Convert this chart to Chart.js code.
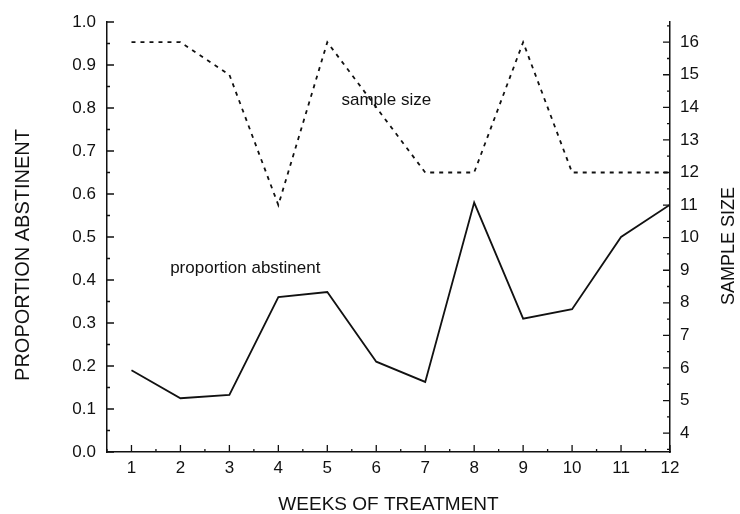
<!DOCTYPE html>
<html>
<head>
<meta charset="utf-8">
<script src="https://cdn.jsdelivr.net/npm/chart.js@4.4.1/dist/chart.umd.min.js"></script>
<style>
  html, body { margin: 0; padding: 0; background: #fff; }
  #wrap { width: 740px; height: 514px; }
</style>
</head>
<body>
<div id="wrap"><canvas id="myChart"></canvas></div>
<script>
// data
const weeks = [1, 2, 3, 4, 5, 6, 7, 8, 9, 10, 11, 12];
const abstinent = [0.19, 0.125, 0.133, 0.36, 0.372, 0.21, 0.163, 0.58, 0.31, 0.332, 0.5, 0.575];
const sampleSize = [16, 16, 15, 11, 16, 14, 12, 12, 16, 12, 12, 12];

const leftTicks = [0, 0.1, 0.2, 0.3, 0.4, 0.5, 0.6, 0.7, 0.8, 0.9, 1.0];
const rightTicks = [4, 5, 6, 7, 8, 9, 10, 11, 12, 13, 14, 15, 16];

const FONT = '"Liberation Sans", Arial, Helvetica, sans-serif';
const INK = '#111';

// ticks in the scan point into the plot, with small ones in between
const inwardTicks = {
    id: 'inwardTicks',
    afterDatasetsDraw(chart) {
        let ctx = chart.ctx;
        let area = chart.chartArea;
        let sx = chart.scales.x;
        let sl = chart.scales.y;
        let sr = chart.scales.y2;
        ctx.save();
        ctx.strokeStyle = INK;
        ctx.lineWidth = 1.3;
        ctx.beginPath();
        sx.ticks.forEach((t, i) => {
            let px = sx.getPixelForValue(t.value);
            ctx.moveTo(px, area.bottom);
            ctx.lineTo(px, area.bottom - 7);
            let half = sx.getPixelForValue(t.value - 0.5);
            ctx.moveTo(half, area.bottom);
            ctx.lineTo(half, area.bottom - 3);
        });
        sl.ticks.forEach(t => {
            let py = sl.getPixelForValue(t.value);
            ctx.moveTo(area.left, py);
            ctx.lineTo(area.left + 7, py);
            if (t.value < 1) {
                let half = sl.getPixelForValue(t.value + 0.05);
                ctx.moveTo(area.left, half);
                ctx.lineTo(area.left + 3, half);
            }
        });
        sr.ticks.forEach(t => {
            let py = sr.getPixelForValue(t.value);
            ctx.moveTo(area.right, py);
            ctx.lineTo(area.right - 7, py);
            [t.value - 0.5, t.value + 0.5].forEach(v => {
                if (v > sr.min && v < sr.max) {
                    let h = sr.getPixelForValue(v);
                    ctx.moveTo(area.right, h);
                    ctx.lineTo(area.right - 3, h);
                }
            });
        });
        ctx.stroke();
        ctx.restore();
    }
};

// the two line labels inside the plot and the two upright axis titles
const notes = [
    { text: 'sample size', week: 5.29, value: 0.817 },
    { text: 'proportion abstinent', week: 1.79, value: 0.428 }
];

const textLabels = {
    id: 'textLabels',
    afterDraw(chart) {
        let ctx = chart.ctx;
        let sx = chart.scales.x;
        let sl = chart.scales.y;
        ctx.save();
        ctx.fillStyle = INK;
        ctx.font = '17px ' + FONT;
        ctx.textAlign = 'left';
        ctx.textBaseline = 'middle';
        notes.forEach(n => {
            ctx.fillText(n.text, sx.getPixelForValue(n.week), sl.getPixelForValue(n.value));
        });

        ctx.textAlign = 'center';
        ctx.font = '20px ' + FONT;
        ctx.translate(23, 255);
        ctx.rotate(-Math.PI / 2);
        ctx.fillText('PROPORTION ABSTINENT', 0, 0);
        ctx.restore();

        ctx.save();
        ctx.fillStyle = INK;
        ctx.font = '18px ' + FONT;
        ctx.textAlign = 'center';
        ctx.textBaseline = 'middle';
        ctx.translate(729, 246);
        ctx.rotate(-Math.PI / 2);
        ctx.fillText('SAMPLE SIZE', 0, 0);
        ctx.restore();
    }
};

const data = {
    datasets: [
        {
            label: 'proportion abstinent',
            data: weeks.map((w, i) => ({ x: w, y: abstinent[i] })),
            borderColor: INK,
            borderWidth: 1.8,
            pointRadius: 0,
            tension: 0,
            yAxisID: 'y'
        },
        {
            label: 'sample size',
            data: weeks.map((w, i) => ({ x: w, y: sampleSize[i] })),
            borderColor: INK,
            borderWidth: 1.8,
            borderDash: [4, 5],
            pointRadius: 0,
            tension: 0,
            yAxisID: 'y2'
        }
    ]
};

let config = {
    type: 'line',
    data: data,
    options: {
        responsive: true,
        maintainAspectRatio: false,
        animation: false,
        layout: { padding: { top: 22, left: 0, right: 0, bottom: 0 } },
        plugins: {
            legend: { display: false },
            tooltip: { enabled: false }
        },
        scales: {
            x: {
                type: 'linear',
                min: 0.5,
                max: 12,
                afterBuildTicks: s => { s.ticks = weeks.map(v => ({ value: v })); },
                afterFit: s => { s.height = 62; },
                grid: { drawOnChartArea: false, drawTicks: false },
                border: { display: true, color: INK, width: 1.5 },
                ticks: {
                    color: INK,
                    padding: 6,
                    maxRotation: 0,
                    autoSkip: false,
                    font: { family: FONT, size: 17 },
                    callback: v => String(v)
                },
                title: {
                    display: true,
                    text: 'WEEKS OF TREATMENT',
                    color: INK,
                    padding: { top: 0, bottom: 0 },
                    font: { family: FONT, size: 19, lineHeight: 1 }
                }
            },
            y: {
                position: 'left',
                min: 0,
                max: 1,
                afterBuildTicks: s => { s.ticks = leftTicks.map(v => ({ value: v })); },
                afterFit: s => { s.width = 107; },
                grid: { drawOnChartArea: false, drawTicks: false },
                border: { display: true, color: INK, width: 1.5 },
                ticks: {
                    color: INK,
                    padding: 11,
                    font: { family: FONT, size: 17 },
                    callback: v => v.toFixed(1)
                }
            },
            y2: {
                position: 'right',
                min: 3.42,
                max: 16.62,
                afterBuildTicks: s => { s.ticks = rightTicks.map(v => ({ value: v })); },
                afterFit: s => { s.width = 70; },
                grid: { drawOnChartArea: false, drawTicks: false },
                border: { display: true, color: INK, width: 1.5 },
                ticks: {
                    color: INK,
                    padding: 10,
                    font: { family: FONT, size: 17 },
                    callback: v => String(v)
                }
            }
        }
    },
    plugins: [inwardTicks, textLabels]
};

let myChart = new Chart(document.getElementById('myChart'), config);
</script>
</body>
</html>
